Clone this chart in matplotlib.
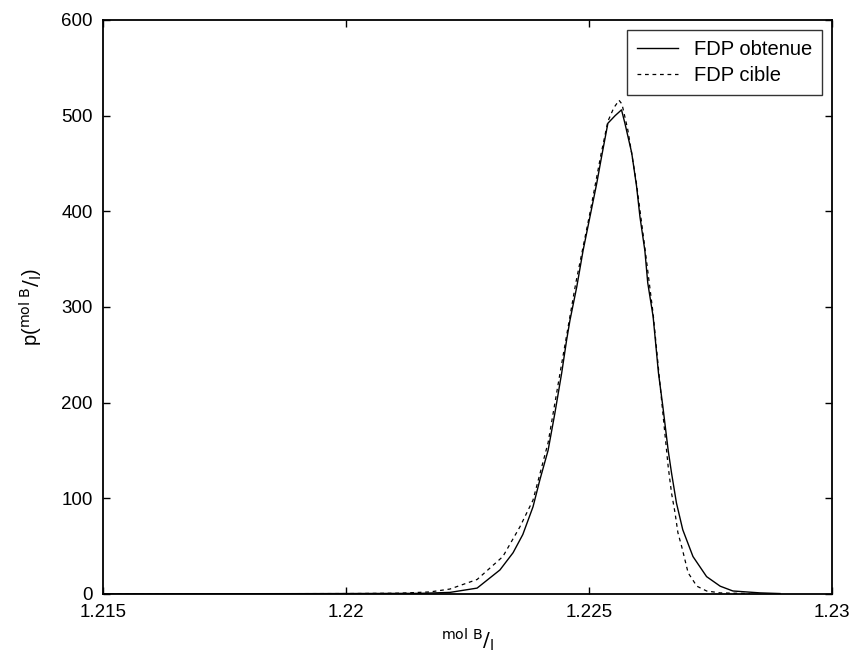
import numpy as np
import matplotlib
matplotlib.use("Agg")
import matplotlib.pyplot as plt

plt.rcParams["font.family"] = ["Liberation Sans", "DejaVu Sans"]

# FDP obtenue (solid)
x_obtenue = [1.21500, 1.21905, 1.22152, 1.22214, 1.22270, 1.22317, 1.22344,
             1.22364, 1.22385, 1.22399, 1.22416, 1.22430, 1.22444, 1.22454,
             1.22461, 1.22475, 1.22488, 1.22502, 1.22516, 1.22526, 1.22539,
             1.22554, 1.22567, 1.22574, 1.22588, 1.22598, 1.22605, 1.22615,
             1.22621, 1.22632, 1.22638, 1.22643, 1.22652, 1.22663, 1.22670,
             1.22680, 1.22693, 1.22714, 1.22742, 1.22770, 1.22796, 1.22852,
             1.22893]
y_obtenue = [0, 0.2, 0.5, 1.5, 6, 25, 43,
             62, 91, 119, 150, 189, 231, 265,
             286, 321, 359, 394, 429, 457, 492,
             500, 506, 492, 461, 426, 394, 359,
             325, 290, 258, 231, 196, 150, 126,
             95, 67, 39, 18, 8, 3, 1,
             0.3]

# FDP cible (dashed)
x_cible = [1.21500, 1.22008, 1.22111, 1.22173, 1.22214, 1.22270, 1.22323,
           1.22358, 1.22385, 1.22416, 1.22442, 1.22473, 1.22502, 1.22525,
           1.22539, 1.22551, 1.22562, 1.22568, 1.22580, 1.22597, 1.22615,
           1.22632, 1.22646, 1.22663, 1.22670, 1.22677, 1.22683, 1.22691,
           1.22704, 1.22722, 1.22742, 1.22770, 1.22831]
y_cible = [0, 0.3, 0.7, 2, 5, 15, 39,
           70, 98, 158, 235, 325, 398, 460,
           494, 508, 516, 512, 485, 432, 362,
           293, 220, 133, 105, 85, 64, 49,
           22, 8, 3, 1, 0.3]

x_ticks = [1.215, 1.22, 1.225, 1.23]
x_tick_labels = ["1.215", "1.22", "1.225", "1.23"]
y_ticks = [0, 100, 200, 300, 400, 500, 600]

fig = plt.figure(figsize=(8.56, 6.65), dpi=100)
ax = fig.add_axes([0.120, 0.107, 0.852, 0.863])

ax.plot(x_obtenue, y_obtenue, color="black", linewidth=1.0,
        label="FDP obtenue")
ax.plot(x_cible, y_cible, color="black", linewidth=0.9,
        linestyle=(0, (3, 3)), label="FDP cible")

ax.set_xlim(1.215, 1.23)
ax.set_ylim(0, 600)
ax.set_xticks(x_ticks)
ax.set_xticklabels(x_tick_labels)
ax.set_yticks(y_ticks)

ax.tick_params(direction="in", length=5, width=1, top=True, right=True,
               labelsize=13.5, colors="black", pad=7)
for s in ax.spines.values():
    s.set_linewidth(1.3)
    s.set_color("black")

ax.set_xlabel(r"$^{\mathrm{mol\ B}}/_{\mathrm{l}}$", fontsize=14.5,
              labelpad=4)
ax.set_ylabel(r"p($^{\mathrm{mol\ B}}/_{\mathrm{l}}$)", fontsize=14.5,
              labelpad=12)

leg = ax.legend(loc="upper right", fontsize=14.5, frameon=True,
                fancybox=False, edgecolor="black", handlelength=2.0,
                handletextpad=0.8, borderaxespad=0.5, labelspacing=0.35,
                borderpad=0.5)
leg.get_frame().set_linewidth(1.0)

fig.savefig("out.png", dpi=100)
